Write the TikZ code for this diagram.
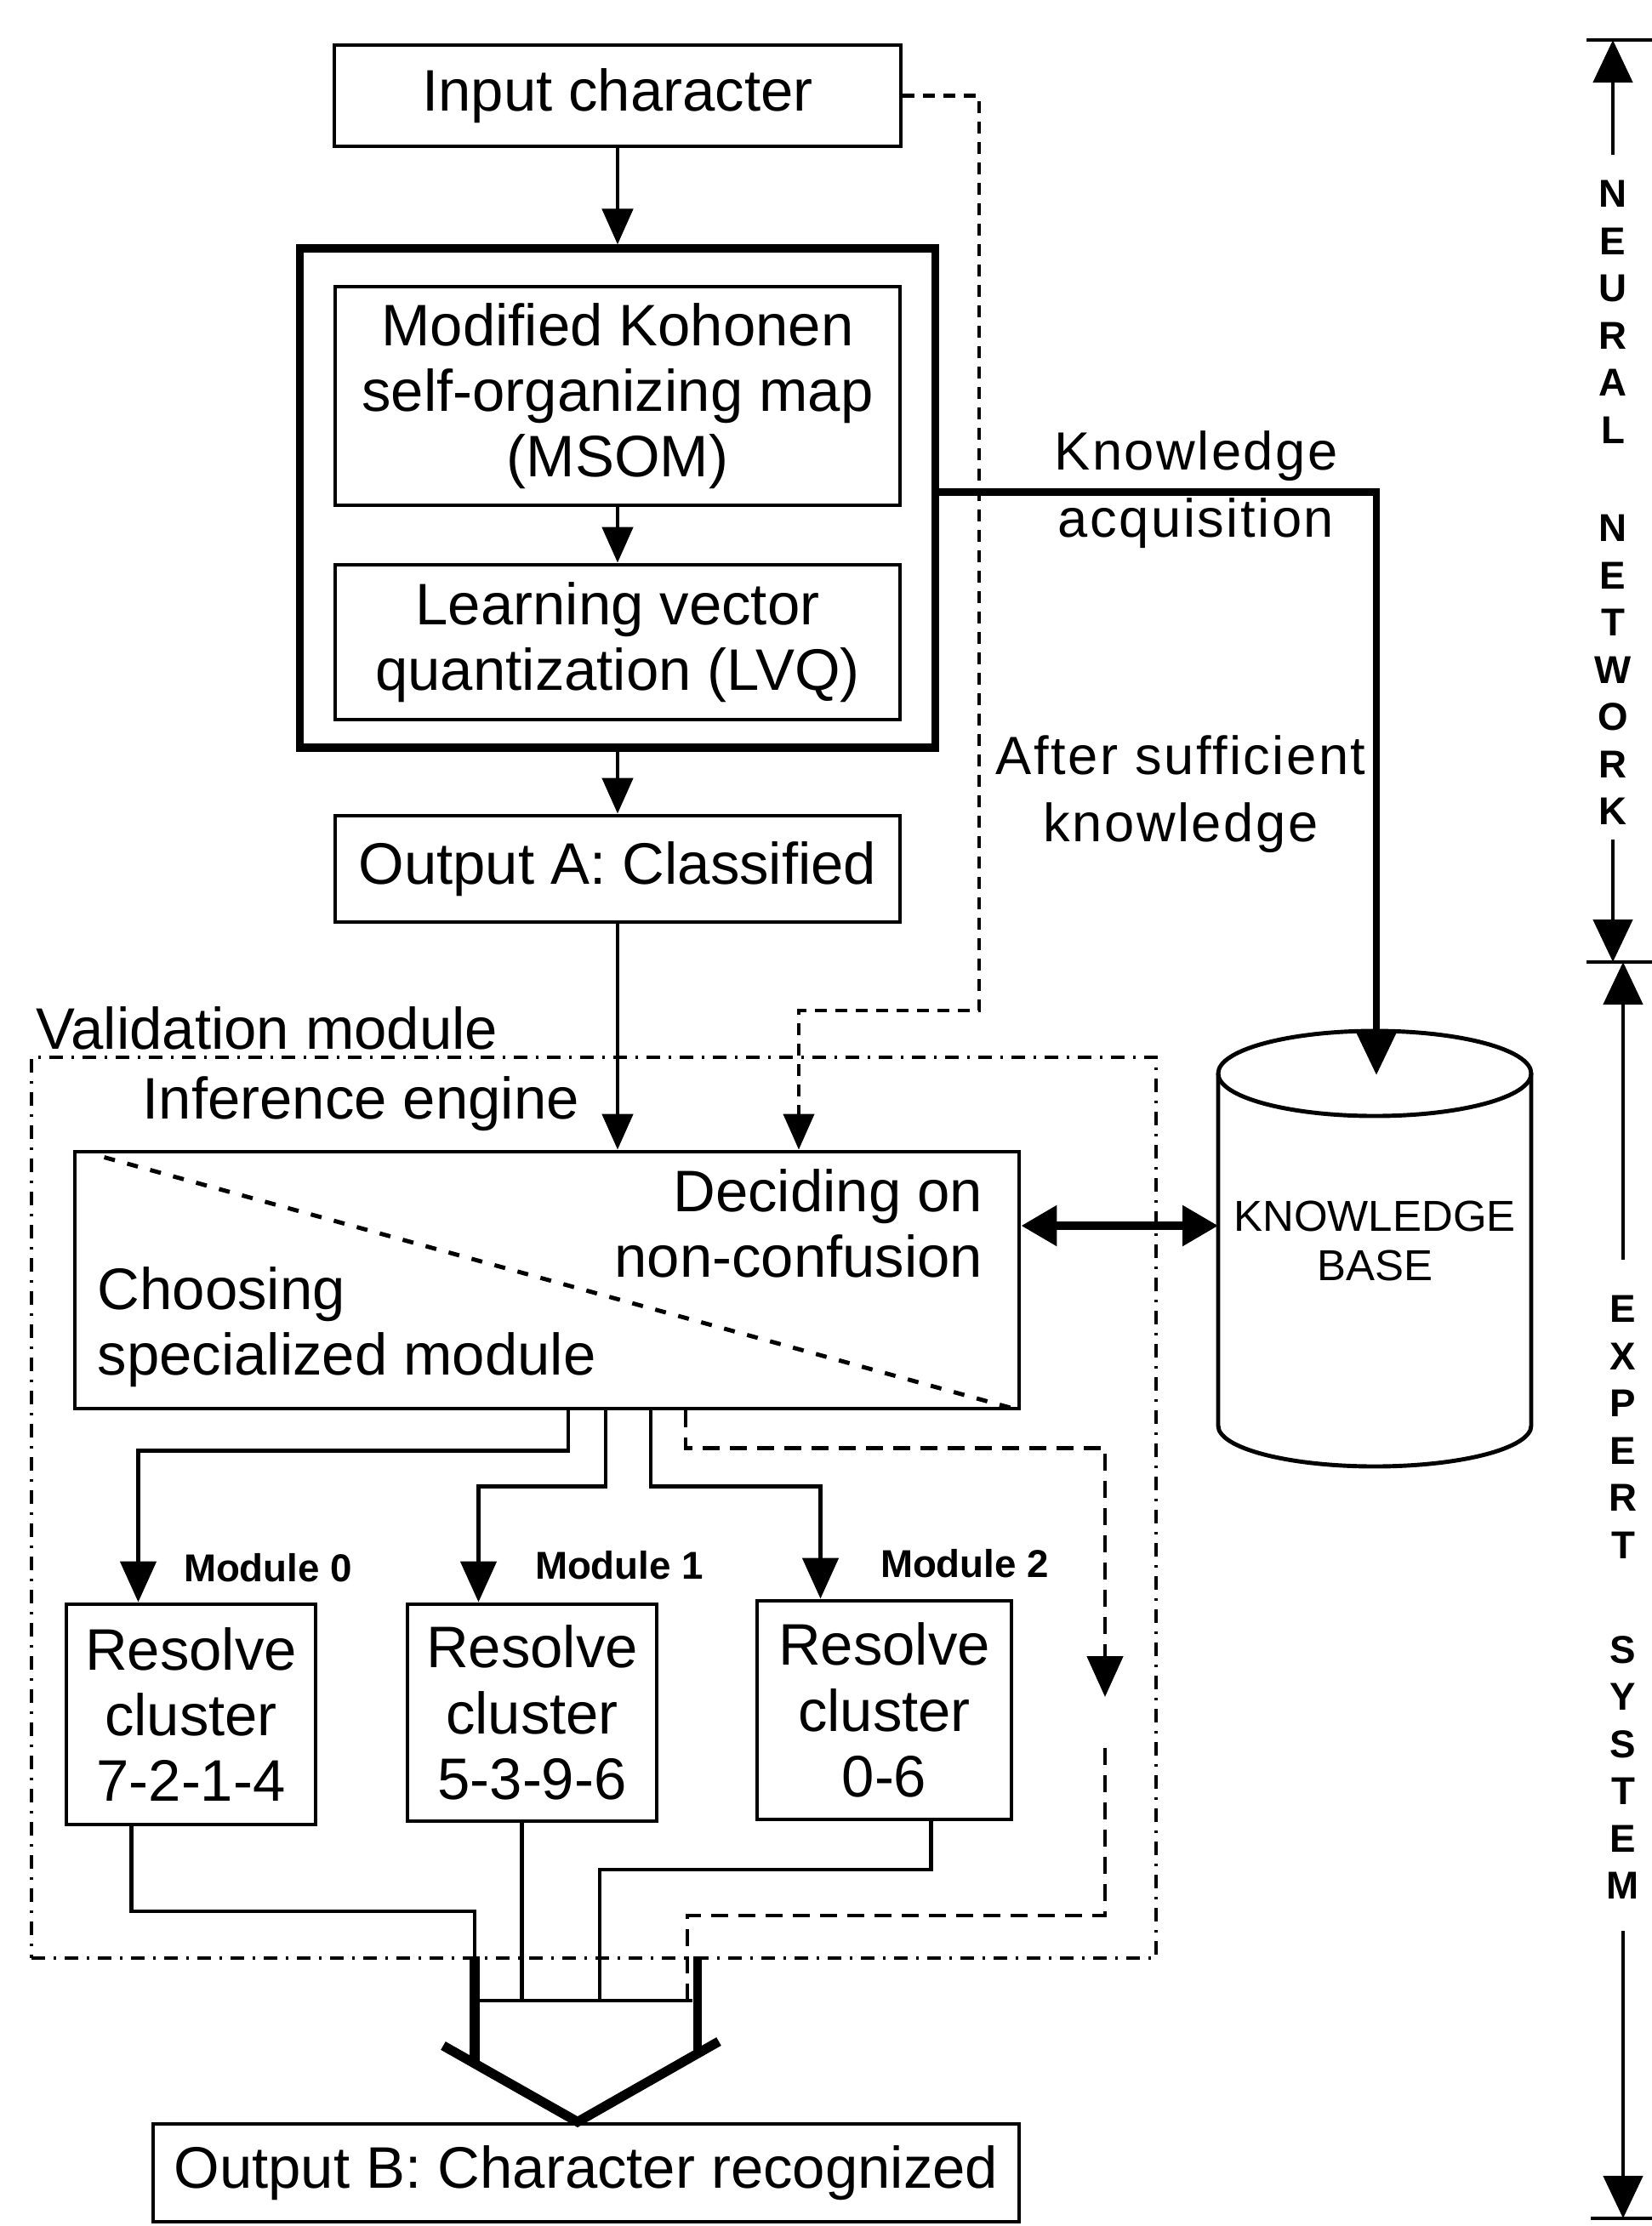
\documentclass[tikz,border=0pt]{standalone}
\usepackage{fontspec}
\setmainfont{Liberation Sans}
\newfontfamily\spacedfont[LetterSpace=4]{Liberation Sans}
\usetikzlibrary{arrows.meta}

\newcommand{\boxfont}{\fontsize{19.6}{22}\selectfont}
\newcommand{\notefont}{\spacedfont\fontsize{18}{22.5}\selectfont}
\newcommand{\kbfont}{\fontsize{14.5}{16.5}\selectfont}
\newcommand{\modfont}{\fontsize{13}{15}\selectfont\bfseries}
\newcommand{\sidefont}{\fontsize{13}{15.8}\selectfont\bfseries}

\tikzset{
  box/.style={draw, line width=1.4pt, align=center, inner sep=0pt, font=\boxfont},
  bigbox/.style={draw, line width=2.6pt, inner sep=0pt},
  txt/.style={font=\boxfont, inner sep=0pt},
  note/.style={font=\notefont, inner sep=0pt, align=center},
  arr/.style={line width=1.4pt, -{Triangle[length=0.42cm,width=0.36cm]}},
  modarr/.style={line width=1.4pt, -{Triangle[length=0.48cm,width=0.42cm]}},
  sidearr/.style={line width=1.4pt, -{Triangle[length=0.5cm,width=0.46cm]}},
  dashline/.style={line width=1.3pt, dash pattern=on 0.2cm off 0.12cm},
  dotdash/.style={line width=1.2pt, dash pattern=on 0.16cm off 0.1cm on 0.03cm off 0.1cm},
}

\begin{document}
\begin{tikzpicture}[x=1cm,y=1cm]
\useasboundingbox (0,0) rectangle (19.42,-26.17);

% neural network part
\node[box, minimum width=6.66cm, minimum height=1.19cm] (input) at (7.26,-1.125) {Input character};
\node[bigbox, minimum width=7.47cm, minimum height=5.87cm] (outer) at (7.26,-5.855) {};
\node[box, minimum width=6.64cm, minimum height=2.57cm] (msom) at (7.26,-4.655) {Modified Kohonen\\self-organizing map\\(MSOM)};
\node[box, minimum width=6.64cm, minimum height=1.82cm] (lvq) at (7.26,-7.55) {Learning vector\\quantization (LVQ)};
\node[box, minimum width=6.64cm, minimum height=1.25cm] (outa) at (7.26,-10.215) {Output A: Classified};
\draw[arr] (input) -- (outer);
\draw[arr] (msom) -- (lvq);
\draw[arr] (outer) -- (outa);

\node[note] (kacq) at (14.06,-5.76) {Knowledge\\acquisition};
\node[note] (after) at (13.88,-9.34) {After sufficient\\knowledge};

% knowledge base
\draw[line width=1.4pt] (14.32,-12.62) -- (14.32,-16.76) arc[start angle=180, end angle=360, x radius=1.84cm, y radius=0.48cm] -- (18.0,-12.62);
\draw[line width=1.4pt] (16.16,-12.62) ellipse [x radius=1.84cm, y radius=0.5cm];
\node[font=\kbfont, align=center] (kb) at (16.16,-14.59) {KNOWLEDGE\\BASE};
\coordinate (kbw) at (14.32,-14.41);
\coordinate (kbtop) at (16.18,-12.64);
\draw[line width=2.4pt, -{Triangle[length=0.5cm,width=0.45cm]}] ([yshift=0.07cm]outer.east) -| (kbtop);

% validation module
\node[draw, dotdash, inner sep=0pt, minimum width=13.22cm, minimum height=10.59cm] (valid) at (6.98,-17.725) {};
\node[txt, anchor=west] (validlbl) at (0.42,-12.09) {Validation module};
\node[txt, anchor=west] (inflbl) at (1.67,-12.98) {Inference engine};
\node[box, minimum width=11.10cm, minimum height=3.02cm] (infer) at (6.43,-15.05) {};
\node[txt, anchor=east, align=right] (decide) at (11.56,-14.385) {Deciding on\\non-confusion};
\node[txt, anchor=west, align=left] (choose) at (1.14,-15.6) {Choosing\\specialized module};
\draw[line width=1.4pt, dash pattern=on 0.13cm off 0.15cm] ([shift={(0.37,-0.09)}]infer.north west) -- (infer.south east);
\draw[arr] (outa) -- (outa |- infer.north);
\draw[line width=2.6pt, {Triangle[length=0.42cm,width=0.46cm]}-{Triangle[length=0.42cm,width=0.46cm]}] (infer.east |- kbw) -- (kbw);

\coordinate (dcorner) at (11.51,-11.88);
\coordinate (ddrop) at (9.39,-11.88);
\draw[arr, dash pattern=on 0.14cm off 0.1cm, line width=1.2pt] (input) -| (dcorner) -- (ddrop) -- (ddrop |- infer.north);

% specialized modules
\node[box, minimum width=2.93cm, minimum height=2.59cm] (res0) at (2.245,-20.155) {Resolve\\cluster\\7-2-1-4};
\node[box, minimum width=2.93cm, minimum height=2.55cm] (res1) at (6.255,-20.135) {Resolve\\cluster\\5-3-9-6};
\node[box, minimum width=2.99cm, minimum height=2.57cm] (res2) at (10.395,-20.105) {Resolve\\cluster\\0-6};
\node[font=\modfont] (m0) at (3.15,-18.43) {Module 0};
\node[font=\modfont] (m1) at (7.28,-18.40) {Module 1};
\node[font=\modfont] (m2) at (11.34,-18.38) {Module 2};
\draw[modarr] ([xshift=0.25cm]infer.south) -- ++(0,-0.47) -| ([xshift=-0.62cm]res0.north);
\draw[modarr] ([xshift=0.69cm]infer.south) -- ++(0,-0.89) -| ([xshift=-0.63cm]res1.north);
\draw[modarr] ([xshift=1.22cm]infer.south) -- ++(0,-0.89) -| ([xshift=-0.75cm]res2.north);

\coordinate (bypass) at (12.99,-19.95);
\coordinate (byback) at (12.99,-20.55);
\coordinate (fundash) at (8.08,-23.50);
\draw[dashline, modarr] ([xshift=1.63cm]infer.south) -- ++(0,-0.44) -| (bypass);
\draw[dashline] (byback) |- ([yshift=0.98cm]fundash) -- (fundash);

% collecting the results
\coordinate (fl) at (5.58,-23.52);
\coordinate (fm) at (7.05,-23.52);
\coordinate (fr) at (8.14,-23.52);
\coordinate (frleg) at (8.20,-23.0);
\coordinate (vl) at (5.21,-24.05);
\coordinate (vr) at (8.45,-24.00);
\node[box, minimum width=10.18cm, minimum height=1.15cm] (outb) at (6.89,-25.545) {Output B: Character recognized};
\draw[line width=1.2pt] ([xshift=-0.70cm]res0.south) |- ([yshift=1.05cm]fl) -- (fl);
\draw[line width=1.2pt] ([xshift=-0.12cm]res1.south) -- ([xshift=-0.12cm]res1.south |- fl);
\draw[line width=1.2pt] ([xshift=0.55cm]res2.south) |- ([yshift=1.54cm]fm) -- (fm);
\draw[line width=1.4pt] (fl) -- (fr);
\draw[line width=3.6pt] ([yshift=0.52cm]fl) -- ([yshift=-0.75cm]fl);
\draw[line width=2.6pt] (frleg) -- ++(0,-1.15);
\draw[line width=3.2pt, line join=miter] (vl) -- ([xshift=-0.1cm]outb.north) -- (vr);

% side scale
\coordinate (ltop) at (18.96,-0.47);
\coordinate (lmid) at (19.0,-11.31);
\coordinate (lbot) at (19.07,-26.08);
\node[font=\sidefont, align=center, inner sep=0pt] (nn) at (18.96,-5.91) {N\\E\\U\\R\\A\\L\\[0.6cm]N\\E\\T\\W\\O\\R\\K};
\node[font=\sidefont, align=center, inner sep=0pt] (es) at (19.08,-18.78) {E\\X\\P\\E\\R\\T\\[0.67cm]S\\Y\\S\\T\\E\\M};
\draw[line width=1.4pt] ([xshift=-0.31cm]ltop) -- ([xshift=0.46cm]ltop);
\draw[line width=1.4pt] ([xshift=-0.35cm]lmid) -- ([xshift=0.42cm]lmid);
\draw[line width=1.4pt] ([xshift=-0.37cm]lbot) -- ([xshift=0.35cm]lbot);
\draw[sidearr] ([yshift=0.29cm]nn.north) -- (nn.north |- ltop);
\draw[sidearr] ([yshift=-0.16cm]nn.south) -- (nn.south |- lmid);
\draw[sidearr] ([yshift=0.42cm]es.north) -- (es.north |- lmid);
\draw[sidearr] ([yshift=-0.37cm]es.south) -- (es.south |- lbot);
\end{tikzpicture}
\end{document}
